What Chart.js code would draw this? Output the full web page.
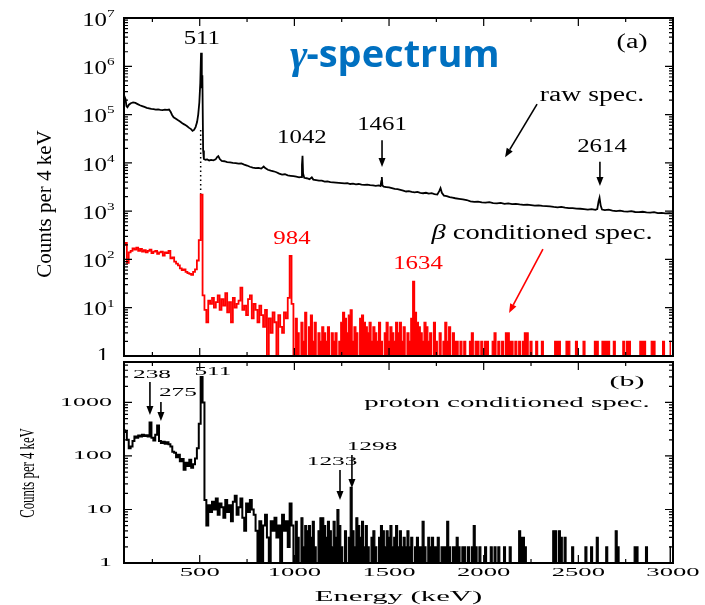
<!DOCTYPE html>
<html>
<head>
<meta charset="utf-8">
<title>gamma spectrum</title>
<script src="https://cdn.jsdelivr.net/npm/chart.js@4.4.1/dist/chart.umd.min.js"></script>
<style>
  body { margin: 0; background: #fff; }
  #wrap { position: relative; width: 705px; height: 605px; }
  canvas { position: absolute; left: 0; }
  #topChart { top: 0; }
  #botChart { top: 360px; }
</style>
</head>
<body>
<div id="wrap">
  <canvas id="topChart" width="705" height="360"></canvas>
  <canvas id="botChart" width="705" height="245"></canvas>
</div>
<script>
// ---- data ----
// raw spectrum (panel a, black): energy (keV) / counts per 4 keV
const rawEnergy = [
  100,104,108,113,118,126,136,148,160,172,
  184,196,208,220,232,244,256,268,280,292,
  304,316,328,338,346,354,362,372,384,396,
  408,420,432,444,454,462,470,478,486,492,
  498,503,507,511,514,518,522,530,540,550,
  560,572,584,592,598,606,616,630,645,660,
  675,690,705,720,735,750,765,780,795,810,
  825,838,846,860,875,890,905,920,935,950,
  965,980,995,1010,1025,1036,1040,1043,1046,1052,
  1065,1080,1092,1100,1115,1130,1145,1160,1175,1190,
  1205,1220,1235,1250,1265,1280,1295,1310,1325,1340,
  1355,1370,1385,1400,1415,1430,1445,1455,1459,1462,
  1465,1472,1485,1500,1515,1530,1545,1560,1575,1590,
  1605,1620,1635,1650,1665,1680,1695,1710,1725,1740,
  1755,1765,1772,1779,1790,1805,1820,1835,1850,1870,
  1890,1910,1930,1950,1970,1990,2010,2030,2050,2070,
  2090,2110,2130,2150,2170,2190,2210,2230,2250,2270,
  2290,2310,2330,2350,2370,2390,2410,2430,2450,2470,
  2490,2510,2530,2550,2570,2590,2600,2607,2612,2618,
  2625,2640,2660,2680,2700,2720,2740,2760,2780,2800,
  2820,2840,2860,2880,2900,2920,2940,2960,2980,3000
];
const rawCounts = [
  2.0e5,2.3e5,2.1e5,1.5e5,1.42e5,1.6e5,1.72e5,1.78e5,1.74e5,1.65e5,
  1.56e5,1.5e5,1.44e5,1.38e5,1.35e5,1.31e5,1.3e5,1.27e5,1.28e5,1.25e5,
  1.24e5,1.26e5,1.25e5,1.27e5,1.15e5,9.8e4,8.8e4,8.3e4,7.7e4,7.2e4,
  6.6e4,6.2e4,5.8e4,5.3e4,5.0e4,4.6e4,4.8e4,5.5e4,7.0e4,1.0e5,
  1.8e5,4.5e5,1.9e6,3.5e5,6.5e5,1.8e4,1.2e4,1.16e4,1.18e4,1.12e4,
  1.15e4,1.13e4,1.18e4,1.32e4,1.38e4,1.2e4,1.1e4,1.08e4,1.04e4,1.02e4,
  1.0e4,9.9e3,9.6e3,9.7e3,9.2e3,8.8e3,8.3e3,8.0e3,7.8e3,7.9e3,
  7.6e3,8.4e3,7.8e3,7.2e3,6.9e3,6.7e3,6.4e3,6.0e3,5.7e3,5.8e3,
  5.5e3,5.4e3,5.3e3,5.2e3,5.0e3,5.1e3,9.0e3,1.4e4,6.0e3,4.9e3,
  4.8e3,4.6e3,5.0e3,4.5e3,4.4e3,4.3e3,4.3e3,4.1e3,4.15e3,4.0e3,
  3.95e3,3.9e3,3.85e3,3.8e3,3.75e3,3.8e3,3.65e3,3.7e3,3.6e3,3.65e3,
  3.55e3,3.5e3,3.55e3,3.45e3,3.4e3,3.35e3,3.4e3,3.3e3,4.2e3,5.1e3,
  3.4e3,3.2e3,3.15e3,3.1e3,3.0e3,2.9e3,2.85e3,2.75e3,2.65e3,2.55e3,
  2.6e3,2.5e3,2.45e3,2.5e3,2.4e3,2.35e3,2.4e3,2.3e3,2.35e3,2.25e3,
  2.2e3,2.6e3,3.0e3,2.4e3,2.1e3,2.05e3,1.95e3,1.9e3,1.85e3,1.8e3,
  1.75e3,1.7e3,1.6e3,1.55e3,1.58e3,1.52e3,1.5e3,1.53e3,1.47e3,1.45e3,
  1.48e3,1.42e3,1.45e3,1.4e3,1.42e3,1.38e3,1.35e3,1.36e3,1.33e3,1.3e3,
  1.32e3,1.28e3,1.27e3,1.25e3,1.22e3,1.2e3,1.22e3,1.18e3,1.15e3,1.16e3,
  1.13e3,1.12e3,1.1e3,1.08e3,1.1e3,1.06e3,1.1e3,1.6e3,1.9e3,1.3e3,
  1.08e3,1.05e3,1.07e3,1.03e3,1.0e3,1.02e3,990,980,1000,960,
  950,970,940,930,950,910,920,900,910,890
];

// histogram bins for the conditioned spectra: 100, 110, ... 2990 keV
const binStart = 100;
const binWidth = 10;
// above this bin the sparse counts are drawn as solid columns
const sparseFrom = 1000;

// beta conditioned spectrum (panel a, red), one row = 100 keV
const betaCounts = [
  200,220,85,140,150,170,160,175,150,165,
  145,155,140,150,160,135,145,150,130,140,
  145,120,140,135,150,105,110,90,82,75,
  65,60,62,55,52,50,48,55,62,95,
  250,2200,18,9,5,14,12,16,10,13,
  18,9,15,11,20,8,13,5,16,10,
  12,14,26,9,11,7,15,18,6,12,
  9,5,11,7,4,9,1,6,3,8,
  5,1,7,4,3,8,6,16,118,12,
  1,6,3,1,5,2,8,1,4,7,
  2,5,1,3,2,4,3,2,4,1,
  3,2,3,1,2,5,8,6,3,7,
  9,2,4,3,1,6,7,5,4,3,
  5,2,4,3,2,5,2,1,3,5,
  2,4,3,2,5,3,5,2,4,1,
  3,2,6,35,8,5,4,3,2,5,
  4,2,3,1,5,2,1,3,1,2,
  5,2,4,1,3,2,2,1,2,1,
  2,1,1,2,3,1,2,2,1,2,
  1,2,2,1,1,2,3,1,2,1,
  2,1,3,3,2,2,1,2,1,2,
  1,2,3,3,1,2,1,1,2,1,
  1,2,1,1,1,1,1,1,2,2,
  2,1,1,1,2,2,1,1,1,2,
  1,1,1,2,1,1,1,1,1,2,
  2,1,1,2,2,2,2,1,1,2,
  1,1,1,1,2,1,2,2,1,1,
  1,1,1,2,2,2,1,1,1,2,
  2,1,1,1,1,2,1,1,1,2
];

// proton conditioned spectrum (panel b, black), one row = 100 keV
const protonCounts = [
  300,280,200,140,150,190,230,220,240,230,
  250,235,245,230,420,220,195,250,370,190,
  175,185,170,180,165,150,120,115,95,105,
  80,88,55,75,65,85,60,70,90,140,
  400,3000,1000,15,5,12,9,14,10,16,
  8,13,11,7,15,9,12,6,14,18,
  8,11,16,7,4,13,9,15,10,8,
  4,1,6,1,5,8,3,1,6,4,
  7,3,5,1,8,4,6,2,13,5,
  1,6,3,1,7,2,5,4,5,3,
  6,2,1,4,7,7,5,3,6,4,
  2,6,3,10,5,2,1,4,1,3,
  26,4,2,7,5,3,6,2,5,2,
  1,3,4,2,1,3,5,4,2,4,
  3,5,2,3,5,2,4,2,3,2,
  4,2,3,1,2,3,2,2,6,2,
  1,3,2,3,2,2,3,1,2,2,
  2,6,2,1,2,2,3,2,1,2,
  2,1,2,1,2,5,2,1,2,1,
  1,2,1,1,2,1,2,1,2,1,
  1,2,1,1,2,1,1,1,1,4,
  3,3,2,1,1,1,1,1,1,1,
  1,1,1,1,1,1,1,4,4,1,
  4,3,1,3,1,1,1,2,1,1,
  1,1,1,1,2,1,1,2,1,1,
  3,1,1,1,1,2,1,1,1,1,
  4,2,1,1,1,1,1,1,1,1,
  2,2,1,1,1,1,2,1,1,1,
  1,1,1,1,1,1,1,1,1,2
];

// axis ticks
const xMajorTicks = [500, 1000, 1500, 2000, 2500, 3000];
const xMinorTicks = [250, 750, 1250, 1750, 2250, 2750];
const topDecades = [0, 1, 2, 3, 4, 5, 6, 7];
const botDecades = [0, 1, 2, 3];
const botTickLabels = ['1', '10', '100', '1000'];

// peak markers: label, energy, counts where the text sits
const rawPeaks = [['511', 511, 3.6e6], ['1042', 1040, 3.2e4], ['1461', 1463, 6.0e4], ['2614', 2625, 2.1e4]];
const betaPeaks = [['984', 987, 264], ['1634', 1653, 80]];
const protonPeaks = [['238', 248, 3270], ['275', 385, 1505], ['511', 570, 3720], ['1233', 1199, 77], ['1298', 1410, 147]];

// ---- helpers ----
const serif = '"Liberation Serif", "Times New Roman", serif';

function runsText(ctx, runs, x, y, sx, align, color) {
  ctx.save();
  ctx.fillStyle = color || '#000';
  ctx.textBaseline = 'middle';
  ctx.textAlign = 'left';
  let total = 0;
  runs.forEach(r => { ctx.font = r.font; r.w = ctx.measureText(r.t).width; total += r.w; });
  const left = x - (align === 'right' ? total * sx : align === 'left' ? 0 : total * sx / 2);
  ctx.translate(left, y);
  ctx.scale(sx, 1);
  let cx = 0;
  runs.forEach(r => { ctx.font = r.font; ctx.fillText(r.t, cx, r.dy || 0); cx += r.w; });
  ctx.restore();
}

function label(ctx, t, x, y, size, sx, align, color) {
  runsText(ctx, [{ t: t, font: size + 'px ' + serif }], x, y, sx, align, color);
}

function arrow(ctx, x1, y1, x2, y2, color) {
  const a = Math.atan2(y2 - y1, x2 - x1), L = 9, W = 3.5;
  const bx = x2 - L * Math.cos(a), by = y2 - L * Math.sin(a);
  ctx.save();
  ctx.strokeStyle = color; ctx.fillStyle = color; ctx.lineWidth = 1.6;
  ctx.beginPath(); ctx.moveTo(x1, y1); ctx.lineTo(bx, by); ctx.stroke();
  ctx.beginPath();
  ctx.moveTo(x2, y2);
  ctx.lineTo(bx + W * Math.sin(a), by - W * Math.cos(a));
  ctx.lineTo(bx - W * Math.sin(a), by + W * Math.cos(a));
  ctx.closePath(); ctx.fill();
  ctx.restore();
}

function drawFrame(chart, decades, topMinor) {
  const { ctx, chartArea: a } = chart;
  const xs = chart.scales.x, ys = chart.scales.y;
  ctx.save();
  ctx.strokeStyle = '#000';
  ctx.lineWidth = 1.2;
  ctx.beginPath();
  const xt = (e, len) => {
    const p = xs.getPixelForValue(e);
    ctx.moveTo(p, a.top); ctx.lineTo(p, a.top + len);
    ctx.moveTo(p, a.bottom); ctx.lineTo(p, a.bottom - len);
  };
  const yt = (v, len) => {
    const p = ys.getPixelForValue(v);
    ctx.moveTo(a.left, p); ctx.lineTo(a.left + len, p);
    ctx.moveTo(a.right, p); ctx.lineTo(a.right - len, p);
  };
  xMajorTicks.forEach(e => xt(e, 8));
  xMinorTicks.forEach(e => xt(e, 4));
  decades.forEach(d => {
    yt(Math.pow(10, d), 8);
    const last = d === decades[decades.length - 1];
    for (let m = 2; m <= (last ? topMinor : 9); m++) yt(m * Math.pow(10, d), 4);
  });
  ctx.stroke();
  ctx.lineWidth = 2;
  ctx.strokeRect(a.left, a.top, a.right - a.left, a.bottom - a.top);
  ctx.restore();
}

// histogram points, split into the dense low part and the sparse high part
function bins(counts, from, to) {
  const pts = counts.map((c, i) => ({ x: binStart + i * binWidth, y: c }));
  return pts.filter(p => p.x >= from && p.x <= to);
}

// ---- panel (a) decorations ----
const topDeco = {
  id: 'topDeco',
  afterDraw(chart) {
    const { ctx } = chart;
    const xs = chart.scales.x, ys = chart.scales.y;
    const px = e => xs.getPixelForValue(e), py = v => ys.getPixelForValue(v);
    drawFrame(chart, topDecades, 0);

    // y tick labels 1, 10^1 ... 10^7
    topDecades.forEach(d => {
      const y = py(Math.pow(10, d));
      if (d === 0) { label(ctx, '1', 109, y, 18, 1.35, 'right'); return; }
      label(ctx, '10', 107, y + 3, 18, 1.38, 'right');
      label(ctx, String(d), 107, y - 4, 11, 1.38, 'left');
    });

    // y title
    ctx.save();
    ctx.translate(45, 204);
    ctx.rotate(-Math.PI / 2);
    ctx.font = '21px ' + serif;
    ctx.textAlign = 'center'; ctx.textBaseline = 'middle'; ctx.fillStyle = '#000';
    ctx.fillText('Counts per 4 keV', 0, 0);
    ctx.restore();

    rawPeaks.forEach(p => label(ctx, p[0], px(p[1]), py(p[2]), 18, 1.38, 'center'));
    betaPeaks.forEach(p => label(ctx, p[0], px(p[1]), py(p[2]), 18, 1.38, 'center', '#ff0000'));
    arrow(ctx, px(1463), py(2.95e4), px(1463), py(8.2e3), '#000');
    arrow(ctx, px(2614), py(1.05e4), px(2614), py(3.3e3), '#000');
    arrow(ctx, px(2282), py(1.65e5), px(2113), py(1.3e4), '#000');
    arrow(ctx, px(2313), py(164), px(2134), py(7.8), '#ff0000');

    label(ctx, '(a)', px(2784), py(3.0e6), 20, 1.4, 'center');
    label(ctx, 'raw spec.', px(2572), py(2.5e5), 20, 1.38, 'center');
    runsText(ctx, [
      { t: 'β', font: 'italic 21px ' + serif },
      { t: ' conditioned spec.', font: '21px ' + serif }
    ], px(2308), py(352), 1.36, 'center');

    // overlay title
    ctx.save();
    ctx.fillStyle = '#0070c0';
    ctx.textBaseline = 'alphabetic';
    ctx.font = 'italic bold 42px ' + serif;
    ctx.fillText('γ', 290, 68);
    const gw = ctx.measureText('γ').width;
    ctx.font = 'bold 38px "Open Sans", sans-serif';
    ctx.fillText('-spectrum', 289 + gw, 67);
    ctx.restore();
  }
};

// ---- panel (b) decorations ----
const botDeco = {
  id: 'botDeco',
  afterDraw(chart) {
    const { ctx, chartArea: a } = chart;
    const xs = chart.scales.x, ys = chart.scales.y;
    const px = e => xs.getPixelForValue(e), py = v => ys.getPixelForValue(v);
    drawFrame(chart, botDecades, 5);

    botDecades.forEach((d, i) => label(ctx, botTickLabels[i], 112, py(Math.pow(10, d)), 13, 2.0, 'right'));
    xMajorTicks.forEach(e => label(ctx, String(e), px(e), a.bottom + 10, 13, 2.05, 'center'));
    label(ctx, 'Energy (keV)', (a.left + a.right) / 2, a.bottom + 34, 15, 2.05, 'center');

    // squeezed y title
    ctx.save();
    ctx.translate(28, 113);
    ctx.rotate(-Math.PI / 2);
    ctx.scale(0.58, 1);
    ctx.font = '22px ' + serif;
    ctx.textAlign = 'center'; ctx.textBaseline = 'middle'; ctx.fillStyle = '#000';
    ctx.fillText('Counts per 4 keV', 0, 0);
    ctx.restore();

    protonPeaks.forEach(p => label(ctx, p[0], px(p[1]), py(p[2]), 13, 1.95, 'center'));
    arrow(ctx, px(237), py(2417), px(237), py(584), '#000');
    arrow(ctx, px(295), py(1021), px(295), py(451), '#000');
    arrow(ctx, px(1241), py(54.7), px(1241), py(15), '#000');
    arrow(ctx, px(1304), py(104), px(1304), py(25.2), '#000');

    label(ctx, '(b)', px(2757), py(2417), 15, 2.0, 'center');
    label(ctx, 'proton conditioned spec.', px(2123), py(979), 15, 1.93, 'center');
  }
};

function baseOptions(padTop, xHeight, yMax) {
  return {
    responsive: false,
    animation: false,
    events: [],
    layout: { padding: { top: padTop, right: 32, left: 0, bottom: 0 } },
    plugins: { legend: { display: false }, tooltip: { enabled: false } },
    elements: { point: { radius: 0 }, line: { tension: 0 } },
    scales: {
      x: {
        type: 'linear', min: 100, max: 3000,
        grid: { display: false }, border: { display: false }, ticks: { display: false },
        afterFit: s => { s.height = xHeight; }
      },
      y: {
        type: 'logarithmic', min: 1, max: yMax,
        grid: { display: false }, border: { display: false }, ticks: { display: false },
        afterFit: s => { s.width = 124; }
      }
    }
  };
}

new Chart(document.getElementById('topChart'), {
  type: 'line',
  data: {
    datasets: [
      {
        label: 'raw spec.',
        data: rawEnergy.map((e, i) => ({ x: e, y: rawCounts[i] })),
        borderColor: '#000', borderWidth: 1.8
      },
      {
        label: 'beta conditioned spec.',
        data: bins(betaCounts, 0, sparseFrom),
        borderColor: '#ff0000', borderWidth: 1.8, stepped: 'middle'
      },
      {
        label: 'beta conditioned spec. (sparse)',
        data: bins(betaCounts, sparseFrom, 3000),
        borderColor: '#ff0000', backgroundColor: '#ff0000', fill: 'start',
        borderWidth: 1.2, stepped: 'middle'
      },
      {
        label: '511 link',
        data: [{ x: 505, y: 4.8e4 }, { x: 505, y: 2.3e3 }],
        borderColor: '#000', borderWidth: 1.5, borderDash: [1.5, 3]
      }
    ]
  },
  options: baseOptions(18, 4, 1e7),
  plugins: [topDeco]
});

new Chart(document.getElementById('botChart'), {
  type: 'line',
  data: {
    datasets: [
      {
        label: 'proton conditioned spec.',
        data: bins(protonCounts, 0, sparseFrom),
        borderColor: '#000', borderWidth: 2, stepped: 'middle'
      },
      {
        label: 'proton conditioned spec. (sparse)',
        data: bins(protonCounts, sparseFrom, 3000),
        borderColor: '#000', backgroundColor: '#000', fill: 'start',
        borderWidth: 1.2, stepped: 'middle'
      }
    ]
  },
  options: baseOptions(2, 42, 5700),
  plugins: [botDeco]
});
</script>
</body>
</html>
